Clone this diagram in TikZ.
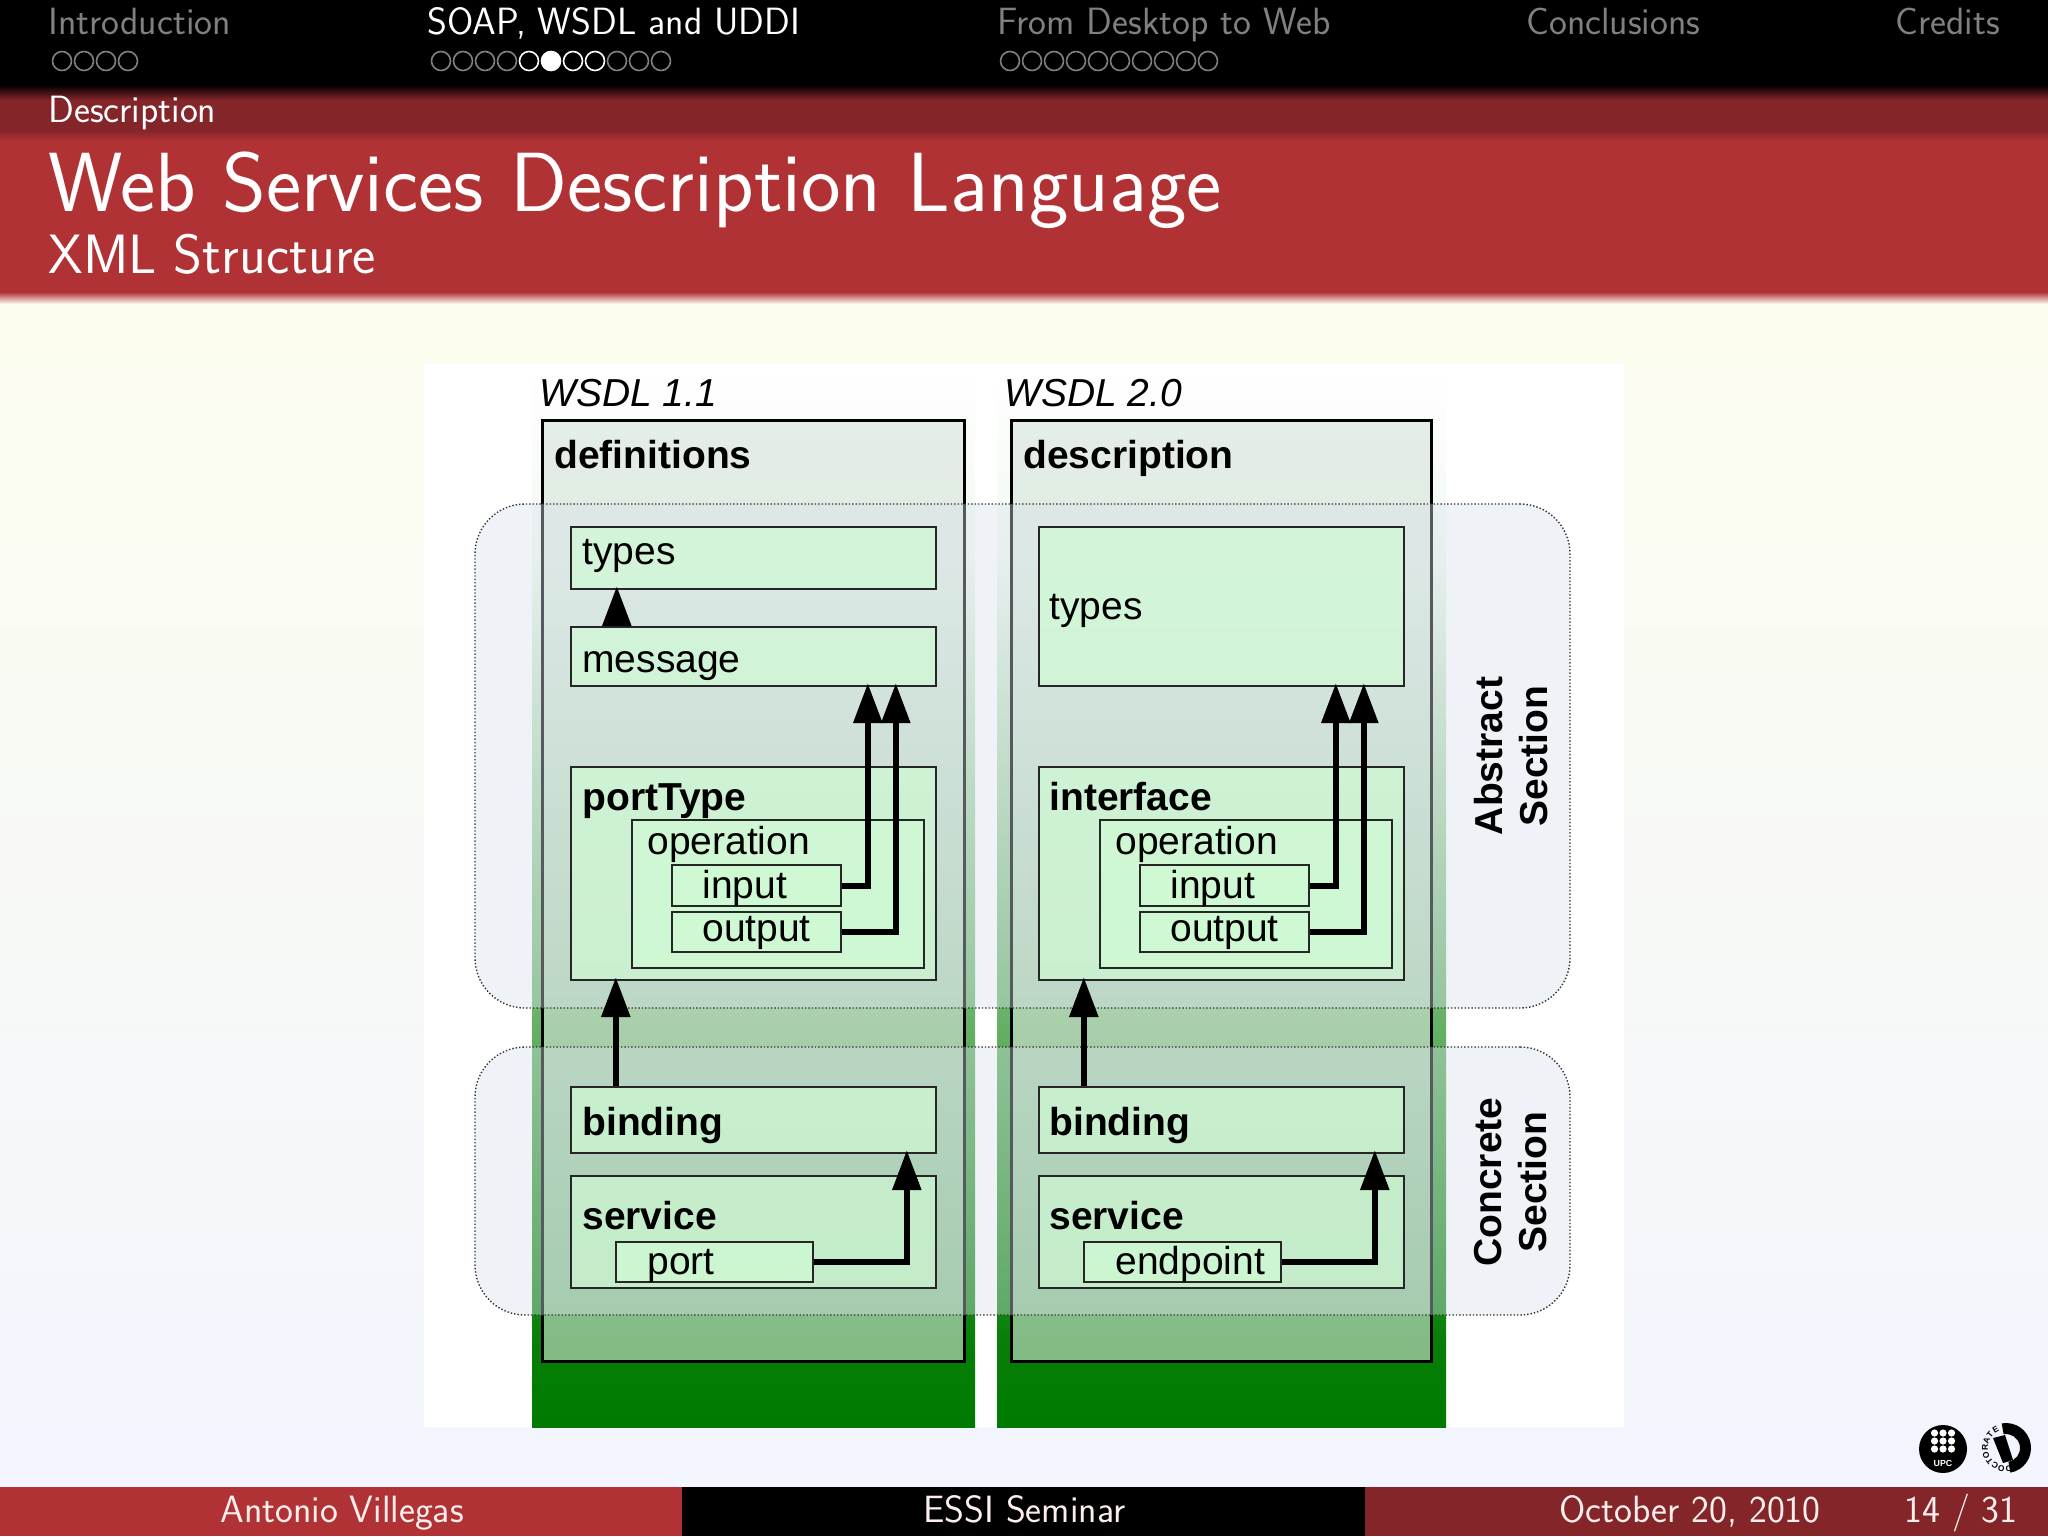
\documentclass[tikz,border=0pt]{standalone}
\usepackage{fontspec}
\setsansfont{Latin Modern Sans}
\newfontfamily\wsdlfont{Liberation Sans}
\usepackage{tikz}
\usetikzlibrary{calc,positioning,fit,arrows.meta}

\definecolor{slidered}{RGB}{177,50,53}
\definecolor{slidedark}{RGB}{132,37,41}
\definecolor{navgrey}{RGB}{128,128,128}
\definecolor{footwhite}{RGB}{253,238,238}
\definecolor{bgtop}{RGB}{252,253,238}
\definecolor{bgbot}{RGB}{243,245,255}
\definecolor{defcol}{RGB}{213,228,217}
\definecolor{regcol}{RGB}{215,227,235}
\definecolor{boxcol}{RGB}{208,250,212}

\pgfdeclareverticalshading{wsdlcol}{100bp}{
  rgb(0bp)=(0,0.478,0);
  rgb(25bp)=(0,0.478,0);
  rgb(29bp)=(0.03,0.498,0.03);
  rgb(66bp)=(0.95,0.975,0.95);
  rgb(75bp)=(1,1,1);
  rgb(100bp)=(1,1,1)}

\tikzset{
  wcol/.style={shading=wsdlcol,inner sep=0pt},
  defbox/.style={draw=black,line width=1.5pt,fill=defcol,fill opacity=.6,inner sep=0pt},
  regbox/.style={draw=black!80,densely dotted,line width=.7pt,fill=regcol,fill opacity=.4,rounded corners=25pt,inner sep=0pt},
  wbox/.style={draw=black!85,line width=1.2pt,fill=boxcol,fill opacity=.7,inner sep=0pt},
  wtext/.style={inner sep=0pt,anchor=base west,font=\wsdlfont\fontsize{19.5}{22}\selectfont},
  bold/.style={wtext,font=\wsdlfont\bfseries\fontsize{19.5}{22}\selectfont},
  flow/.style={line width=3pt,shorten >=-2pt,-{Triangle[length=20pt,width=14pt]}},
  side/.style={inner sep=0pt,rotate=90,align=center,font=\wsdlfont\bfseries\fontsize{19.5}{22.5}\selectfont},
  navtext/.style={inner sep=0pt,anchor=base west,font=\sffamily\fontsize{19}{21}\selectfont},
  foot/.style={navtext,text=footwhite},
  navdot/.style={circle,draw=navgrey,line width=.8pt,minimum size=9.5pt,inner sep=0pt},
}

\begin{document}
\begin{tikzpicture}[x=0.5pt,y=-0.5pt]
    \useasboundingbox (0,0) rectangle (2048,1536);

    % slide
    \shade[top color=bgtop,bottom color=bgbot] (0,295) rectangle (2048,1490);
    \fill[black] (0,0) rectangle (2048,85);
    \shade[top color=black,bottom color=slidedark] (0,85) rectangle (2048,100);
    \fill[slidedark] (0,100) rectangle (2048,130);
    \shade[top color=slidedark,bottom color=slidered] (0,130) rectangle (2048,141);
    \fill[slidered] (0,141) rectangle (2048,292);
    \shade[top color=slidered,bottom color=bgtop] (0,292) rectangle (2048,304);
    \fill[slidered] (0,1487) rectangle (682,1536);
    \fill[black] (682,1487) rectangle (1365,1536);
    \fill[slidedark] (1365,1487) rectangle (2048,1536);

    \node[navtext,text=navgrey] (nav1) at (48,35) {Introduction};
    \node[navtext,text=white] (nav2) at (427,35) {SOAP, WSDL and UDDI};
    \node[navtext,text=navgrey] (nav3) at (997,35) {From Desktop to Web};
    \node[navtext,text=navgrey] (nav4) at (1526,35) {Conclusions};
    \node[navtext,text=navgrey] (nav5) at (1895,35) {Credits};

    \foreach \k in {0,...,3}
        \node[navdot] (dotA\k) at (62+22*\k,61) {};
    \foreach \k in {0,...,3,8,9,10}
        \node[navdot] (dotB\k) at (441+22*\k,61) {};
    \foreach \k in {4,6,7}
        \node[navdot,draw=white] (dotB\k) at (441+22*\k,61) {};
    \node[navdot,draw=white,fill=white] (dotB5) at (551,61) {};
    \foreach \k in {0,...,9}
        \node[navdot] (dotC\k) at (1010+22*\k,61) {};

    \node[navtext,text=white] (sect) at (48,122) {Description};
    \node[navtext,text=white,font=\sffamily\fontsize{42}{45}\selectfont] (title) at (48,211) {Web Services Description Language};
    \node[navtext,text=white,font=\sffamily\fontsize{27.7}{30}\selectfont] (subtitle) at (48,273) {XML Structure};

    \node[foot] (author) at (220,1522) {Antonio Villegas};
    \node[foot] (event) at (923,1522) {ESSI Seminar};
    \node[foot] (date) at (1559,1522) {October 20, 2010};
    \node[foot] (page) at (1904,1522) {14 / 31};

    % figure
    \fill[white] (424,364) rectangle (1624,1427);
    \node[wcol,fit={(532,364)(975,1427)}] (col1) {};
    \node[wcol,fit={(997,364)(1446,1427)}] (col2) {};
    \node[defbox,fit={(542,420)(964,1361)}] (defs) {};
    \node[defbox,fit={(1011,420)(1431,1361)}] (desc) {};
    \node[regbox,fit={(475,504)(1570,1008)}] (abstract) {};
    \node[regbox,fit={(475,1047)(1570,1315)}] (concrete) {};

    % WSDL 1.1
    \node[wbox,fit={(571,527)(936,589)}] (types1) {};
    \node[wbox,fit={(571,627)(936,686)}] (message1) {};
    \node[wbox,fit={(571,767)(936,980)}] (port1) {};
    \node[wbox,fit={(632,820)(924,968)}] (oper1) {};
    \node[wbox,fit={(672,865)(841,906)}] (input1) {};
    \node[wbox,fit={(672,912)(841,952)}] (output1) {};
    \node[wbox,fit={(571,1087)(936,1153)}] (bind1) {};
    \node[wbox,fit={(571,1176)(936,1288)}] (serv1) {};
    \node[wbox,fit={(616,1242)(813,1282)}] (end1) {};

    % WSDL 2.0
    \node[wbox,fit={(1039,527)(1404,686)}] (types2) {};
    \node[wbox,fit={(1039,767)(1404,980)}] (port2) {};
    \node[wbox,fit={(1100,820)(1392,968)}] (oper2) {};
    \node[wbox,fit={(1140,865)(1309,906)}] (input2) {};
    \node[wbox,fit={(1140,912)(1309,952)}] (output2) {};
    \node[wbox,fit={(1039,1087)(1404,1153)}] (bind2) {};
    \node[wbox,fit={(1039,1176)(1404,1288)}] (serv2) {};
    \node[wbox,fit={(1084,1242)(1281,1282)}] (end2) {};

    \draw[flow] ($(message1.north west)+(47,0)$) -- ($(types1.south west)+(47,0)$);
    \draw[flow] (input1.east) -| ($(message1.south west)+(298,0)$);
    \draw[flow] (output1.east) -| ($(message1.south west)+(326,0)$);
    \draw[flow] ($(bind1.north west)+(46,0)$) -- ($(port1.south west)+(46,0)$);
    \draw[flow] (end1.east) -| ($(bind1.south west)+(337,0)$);

    \draw[flow] (input2.east) -| ($(types2.south west)+(298,0)$);
    \draw[flow] (output2.east) -| ($(types2.south west)+(326,0)$);
    \draw[flow] ($(bind2.north west)+(46,0)$) -- ($(port2.south west)+(46,0)$);
    \draw[flow] (end2.east) -| ($(bind2.south west)+(337,0)$);

    \node[wtext,font=\wsdlfont\itshape\fontsize{19.5}{22}\selectfont] (ver1) at (539,406) {WSDL 1.1};
    \node[wtext,font=\wsdlfont\itshape\fontsize{19.5}{22}\selectfont] (ver2) at (1004,406) {WSDL 2.0};
    \node[bold] (defslbl) at (554,468) {definitions};
    \node[bold] (desclbl) at (1023,468) {description};

    \node[wtext] (types1lbl) at (582,564) {types};
    \node[wtext] (message1lbl) at (582,672) {message};
    \node[bold] (port1lbl) at (582,810) {portType};
    \node[wtext] (oper1lbl) at (647,854) {operation};
    \node[wtext] (input1lbl) at (702,898) {input};
    \node[wtext] (output1lbl) at (702,941) {output};
    \node[bold] (bind1lbl) at (582,1135) {binding};
    \node[bold] (serv1lbl) at (582,1229) {service};
    \node[wtext] (end1lbl) at (647,1274) {port};

    \node[wtext] (types2lbl) at (1049,619) {types};
    \node[bold] (port2lbl) at (1049,810) {interface};
    \node[wtext] (oper2lbl) at (1115,854) {operation};
    \node[wtext] (input2lbl) at (1170,898) {input};
    \node[wtext] (output2lbl) at (1170,941) {output};
    \node[bold] (bind2lbl) at (1049,1135) {binding};
    \node[bold] (serv2lbl) at (1049,1229) {service};
    \node[wtext] (end2lbl) at (1115,1274) {endpoint};

    \node[side] (abstractlbl) at (1511,756) {Abstract\\Section};
    \node[side] (concretelbl) at (1511,1182) {Concrete\\Section};

    % logos
    \fill[black] (1943,1449) circle (12pt);
    \foreach \i in {-1,0,1}
        \foreach \j in {-1,0,1}
            \fill[white] (1943+8.5*\i,1441+8*\j) circle (1.8pt);
    \node[inner sep=0pt,text=white,font=\wsdlfont\bfseries\fontsize{4.4}{5}\selectfont] (upc) at (1943,1463) {UPC};

    \coordinate (doc) at (2006,1448);
    \fill[black] ($(doc)+(100:12.5pt)$) arc (100:-80:12.5pt) -- ($(doc)+(-80:7pt)$) arc (-80:100:7pt) -- cycle;
    \fill[black] (1993,1438) -- (2005,1435) -- (2013,1460) -- (2003,1463) -- cycle;
    \foreach \ch/\ang in {D/277,O/257,C/238,T/218,O/199,R/179,A/159,T/140,E/120}
        \node[inner sep=0pt,rotate=\ang-90,font=\wsdlfont\bfseries\fontsize{4.2}{5}\selectfont] at ($(doc)+(\ang:10.5pt)$) {\ch};

\end{tikzpicture}
\end{document}
